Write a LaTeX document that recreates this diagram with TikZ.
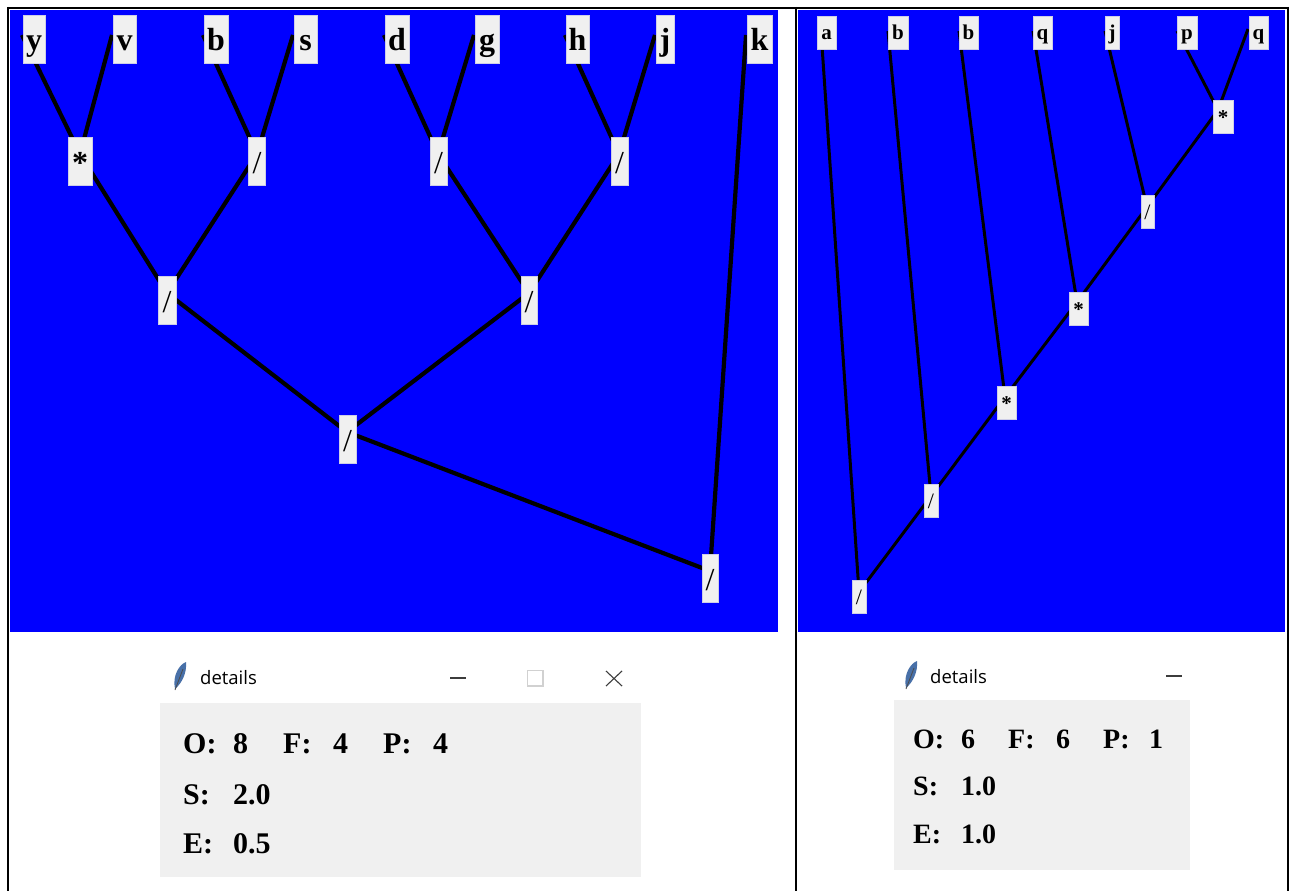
\documentclass[tikz,border=0pt]{standalone}
\usepackage{fontspec}
\setmainfont{Liberation Serif}
\newfontfamily\uifont{Open Sans}
\definecolor{bgblue}{RGB}{0,0,255}
\definecolor{boxgray}{RGB}{240,240,240}
\definecolor{boxedge}{RGB}{205,205,232}
\definecolor{feathercol}{RGB}{72,112,168}
\definecolor{titlegray}{RGB}{60,60,60}
\tikzset{
  bigbox/.style={fill=boxgray, draw=boxedge, line width=0.6pt, inner sep=0pt,
    minimum height=48pt, text height=24pt, text depth=0pt,
    font=\fontsize{32}{36}\selectfont\bfseries},
  bigop/.style={bigbox, font=\fontsize{32}{36}\selectfont},
  smallbox/.style={fill=boxgray, draw=boxedge, line width=0.6pt, inner sep=0pt,
    minimum height=33pt, text height=15pt, text depth=0pt,
    font=\fontsize{21}{24}\selectfont\bfseries},
  smallop/.style={smallbox, font=\fontsize{22}{24}\selectfont},
  edgeL/.style={line width=4.2pt, black},
  edgeR/.style={line width=3pt, black},
  frameline/.style={line width=2pt, black},
  infoL/.style={anchor=base west, inner sep=0pt, font=\fontsize{30}{36}\selectfont\bfseries},
  infoR/.style={anchor=base west, inner sep=0pt, font=\fontsize{28}{34}\selectfont\bfseries},
  wintitle/.style={anchor=base west, inner sep=0pt, font=\uifont\fontsize{18.5}{22}\selectfont, text=black},
  feather/.pic={
    \fill[feathercol] (0,0) .. controls (-3,-14) and (5,-25) .. (11,-27)
      .. controls (12,-16) and (7,-6) .. (0,0) -- cycle;
    \draw[black!70, line width=0.8pt] (0,1) -- (8,-20);
  }
}
\begin{document}
\begin{tikzpicture}[x=1pt,y=-1pt]
\useasboundingbox (0,0) rectangle (1297,891);
\fill[white] (0,0) rectangle (1297,891);

% panels
\fill[bgblue] (10,10) rectangle (778,632);
\fill[bgblue] (798,10) rectangle (1285,632);

% frame lines
\draw[frameline] (7,8) -- (1289,8);
\draw[frameline] (8,7) -- (8,891);
\draw[frameline] (795.5,7) -- (795.5,891);
\draw[frameline] (1288,7) -- (1288,891);

% ---------- left tree: anchor points ----------
\coordinate (pY) at (22,35);
\coordinate (pV) at (112,35);
\coordinate (pB) at (203,35);
\coordinate (pS) at (293,35);
\coordinate (pD) at (384,35);
\coordinate (pG) at (474,35);
\coordinate (pH) at (565,35);
\coordinate (pJ) at (655,35);
\coordinate (pK) at (746,35);
\coordinate (pM1) at (80,154);
\coordinate (pD1) at (257,154);
\coordinate (pD2) at (438,154);
\coordinate (pD3) at (619,154);
\coordinate (pE1) at (167,293);
\coordinate (pE2) at (529,293);
\coordinate (pF) at (347,432);
\coordinate (pR) at (710,571);

\draw[edgeL] (pY) -- (pM1);
\draw[edgeL] (pV) -- (pM1);
\draw[edgeL] (pB) -- (pD1);
\draw[edgeL] (pS) -- (pD1);
\draw[edgeL] (pD) -- (pD2);
\draw[edgeL] (pG) -- (pD2);
\draw[edgeL] (pH) -- (pD3);
\draw[edgeL] (pJ) -- (pD3);
\draw[edgeL] (pM1) -- (pE1);
\draw[edgeL] (pD1) -- (pE1);
\draw[edgeL] (pD2) -- (pE2);
\draw[edgeL] (pD3) -- (pE2);
\draw[edgeL] (pE1) -- (pF);
\draw[edgeL] (pE2) -- (pF);
\draw[edgeL] (pF) -- (pR);
\draw[edgeL] (pK) -- (pR);

% left tree boxes
\node[bigbox, minimum width=22pt] (nY) at (34,39) {y};
\node[bigbox, minimum width=23pt] (nV) at (124.5,39) {v};
\node[bigbox, minimum width=24pt] (nB) at (216,39) {b};
\node[bigbox, minimum width=23pt] (nS) at (305.5,39) {s};
\node[bigbox, minimum width=24pt] (nD) at (397,39) {d};
\node[bigbox, minimum width=24pt] (nG) at (487,39) {g};
\node[bigbox, minimum width=23pt] (nH) at (577.5,39) {h};
\node[bigbox, minimum width=18pt] (nJ) at (665,39) {j};
\node[bigbox, minimum width=25pt] (nK) at (759.5,39) {k};
\node[bigbox, minimum width=24pt] (nM1) at (80,161) {*};
\node[bigop, minimum width=17pt] (nD1) at (257,161) {/};
\node[bigop, minimum width=17pt] (nD2) at (438.5,161) {/};
\node[bigop, minimum width=17pt] (nD3) at (619.5,161) {/};
\node[bigop, minimum width=18pt] (nE1) at (167,300) {/};
\node[bigop, minimum width=16pt] (nE2) at (529,300) {/};
\node[bigop, minimum width=17pt] (nF) at (347.5,439) {/};
\node[bigop, minimum width=16pt] (nR) at (710,578) {/};

% ---------- right tree: anchor points ----------
\coordinate (qA) at (821,31);
\coordinate (qB) at (888,31);
\coordinate (qB2) at (959,31);
\coordinate (qQ) at (1033,31);
\coordinate (qJ) at (1105,31);
\coordinate (qP) at (1177,31);
\coordinate (qQ2) at (1248,29);
\coordinate (qT1) at (1218,110);
\coordinate (qT2) at (1147,207);
\coordinate (qT3) at (1077,302);
\coordinate (qT4) at (1005,397);
\coordinate (qT5) at (931,496);
\coordinate (qT6) at (859,592);

\draw[edgeR] (qA) -- (qT6);
\draw[edgeR] (qB) -- (qT5);
\draw[edgeR] (qB2) -- (qT4);
\draw[edgeR] (qQ) -- (qT3);
\draw[edgeR] (qJ) -- (qT2);
\draw[edgeR] (qP) -- (qT1);
\draw[edgeR] (qQ2) -- (qT1);
\draw[edgeR] (qT1) -- (qT2);
\draw[edgeR] (qT2) -- (qT3);
\draw[edgeR] (qT3) -- (qT4);
\draw[edgeR] (qT4) -- (qT5);
\draw[edgeR] (qT5) -- (qT6);

% right tree boxes
\node[smallbox, minimum width=19pt] (mA) at (826.5,32.5) {a};
\node[smallbox, minimum width=20pt] (mB) at (898,32.5) {b};
\node[smallbox, minimum width=19pt] (mB2) at (968.5,32.5) {b};
\node[smallbox, minimum width=19pt] (mQ) at (1042.5,32.5) {q};
\node[smallbox, minimum width=14pt] (mJ) at (1112,32.5) {j};
\node[smallbox, minimum width=20pt] (mP) at (1187,32.5) {p};
\node[smallbox, minimum width=19pt] (mQ2) at (1258.5,32.5) {q};
\node[smallbox, minimum width=20pt] (mT1) at (1223,116.5) {*};
\node[smallop, minimum width=13pt] (mT2) at (1147.5,212) {/};
\node[smallbox, minimum width=19pt] (mT3) at (1078.5,308.5) {*};
\node[smallbox, minimum width=19pt] (mT4) at (1006.5,403) {*};
\node[smallop, minimum width=14pt] (mT5) at (931,500.5) {/};
\node[smallop, minimum width=14pt] (mT6) at (859,596.5) {/};

% ---------- left details window ----------
\pic at (175,689) {feather};
\node[wintitle] (tL) at (200,684) {details};
\draw[titlegray, line width=1.1pt] (450,678) -- (466,678);
\draw[black!18, line width=1.1pt] (527.5,670.5) rectangle (543,686);
\draw[titlegray, line width=1.1pt] (606,671) -- (622,686) (622,671) -- (606,686);
\fill[boxgray] (160,703) rectangle (641,877);
\node[infoL] (lO) at (183,753) {O:};
\node[infoL] (lOv) at (233,753) {8};
\node[infoL] (lF) at (283,753) {F:};
\node[infoL] (lFv) at (333,753) {4};
\node[infoL] (lP) at (383,753) {P:};
\node[infoL] (lPv) at (433,753) {4};
\node[infoL] (lS) at (183,804) {S:};
\node[infoL] (lSv) at (233,804) {2.0};
\node[infoL] (lE) at (183,853) {E:};
\node[infoL] (lEv) at (233,853) {0.5};

% ---------- right details window ----------
\pic at (906,688) {feather};
\node[wintitle] (tR) at (930,683) {details};
\draw[titlegray, line width=1.1pt] (1166,676) -- (1182,676);
\fill[boxgray] (894,700) rectangle (1190,870);
\node[infoR] (rO) at (913,748) {O:};
\node[infoR] (rOv) at (961,748) {6};
\node[infoR] (rF) at (1008,748) {F:};
\node[infoR] (rFv) at (1056,748) {6};
\node[infoR] (rP) at (1103,748) {P:};
\node[infoR] (rPv) at (1149,748) {1};
\node[infoR] (rS) at (913,795) {S:};
\node[infoR] (rSv) at (961,795) {1.0};
\node[infoR] (rE) at (913,843) {E:};
\node[infoR] (rEv) at (961,843) {1.0};
\end{tikzpicture}
\end{document}
